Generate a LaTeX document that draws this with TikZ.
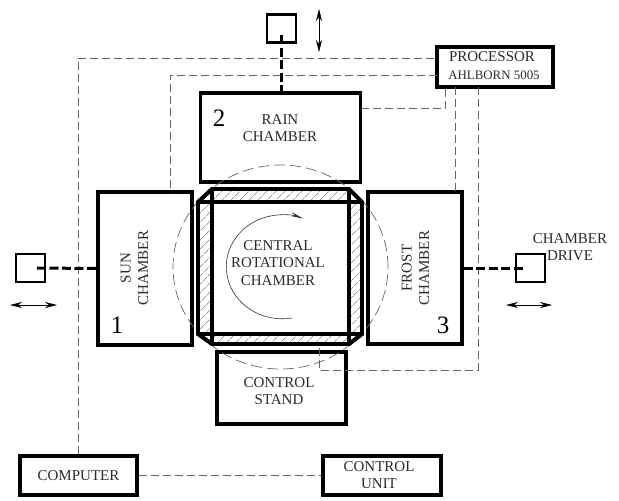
\documentclass[tikz,border=0pt]{standalone}
\usepackage{fontspec}
\setmainfont{Liberation Serif}
\usetikzlibrary{arrows.meta,patterns.meta}
\definecolor{inkc}{HTML}{2B2B2B}
\definecolor{sigc}{HTML}{666666}
\tikzset{
  x=1pt,y=-1pt,
  box/.style={draw=black,line width=3.4pt,inner sep=0pt,text=inkc,align=center,font=\fontsize{15}{17.5}\selectfont},
  lbl/.style={inner sep=0pt,text=inkc,align=center,font=\fontsize{15}{17.5}\selectfont},
  num/.style={inner sep=0pt,text=black,font=\fontsize{25}{25}\selectfont},
  drivebox/.style={draw=black,line width=2.8pt,inner sep=0pt,minimum width=29pt,minimum height=28pt},
  sig/.style={draw=sigc,line width=0.8pt,dash pattern=on 8pt off 4pt},
  rod/.style={draw=black,line width=3pt,dash pattern=on 9pt off 3.5pt},
  move/.style={draw=black,line width=0.5pt,{Stealth[length=12pt,width=6pt]}-{Stealth[length=12pt,width=6pt]}},
  hatch/.style={draw=none,pattern={Lines[angle=45,distance=6.5pt,line width=0.45pt]},pattern color=black!60},
  wall/.style={draw=black,line width=3.8pt,line join=miter},
}
\begin{document}
\begin{tikzpicture}
\useasboundingbox[fill=white] (0,0) rectangle (619,501);
% boxes
\node[box,minimum width=160pt,minimum height=89pt] (rain) at (280.5,137.5) {};
\node[box,minimum width=94pt,minimum height=153pt] (sun) at (145,268.5) {};
\node[box,minimum width=94pt,minimum height=152pt] (frost) at (415,268) {};
\node[box,minimum width=129pt,minimum height=72pt] (stand) at (281.5,388) {};
\node[box,minimum width=117pt,minimum height=39pt] (computer) at (78.5,475.5) {COMPUTER};
\node[box,minimum width=118pt,minimum height=39pt] (unit) at (382,475.5) {\hspace*{-6pt}CONTROL\\[-0.5pt]\hspace*{-6pt}UNIT};
\node[box,minimum width=116pt,minimum height=40pt] (proc) at (495,67) {};
\node[drivebox] (dtop) at (281.5,28.5) {};
\node[drivebox] (dleft) at (30.5,268) {};
\node[drivebox] (dright) at (530.5,268) {};
% free ends of the connectors
\coordinate (pa) at (437,58);
\coordinate (pb) at (437,75);
\coordinate (sb) at (170,192);
\coordinate (ra) at (361,108.5);
\coordinate (pc) at (445,87);
\coordinate (pd) at (455.5,87);
\coordinate (fd) at (455.5,192);
\coordinate (pe) at (478,87);
\coordinate (ce) at (319,345);
\coordinate (cb) at (478,370);
\coordinate (cu) at (319,370);
\coordinate (tin) at (281,35);
\coordinate (lin) at (37,268);
\coordinate (rin) at (523,268);
% signal lines
\draw[sig] (computer.north) |- (pa);
\draw[sig] (pb) -| (sb);
\draw[sig] (ra) -| (pc);
\draw[sig] (pd) -- (fd);
\draw[sig] (pe) -- (cb) -- (cu) -- (ce);
\draw[sig] (computer.east) -- (unit.west);
% drive rods
\draw[rod] (tin) -- (tin |- rain.north);
\draw[rod] (lin) -- (sun.west);
\draw[rod] (frost.east) -- (rin);
% motion arrows
\coordinate (au) at (319,9); \coordinate (ad) at (319,52);
\coordinate (bl) at (10,305); \coordinate (br) at (57,305);
\coordinate (cl) at (506,305); \coordinate (cr) at (552,305);
\draw[move] (au) -- (ad);
\draw[move] (bl) -- (br);
\draw[move] (cl) -- (cr);
% dashed circle
\draw[draw=sigc,line width=0.7pt,dash pattern=on 11pt off 5pt] (280.5,267) ellipse [x radius=107.5pt,y radius=102pt];
% central chamber
\filldraw[wall,fill=white] (212,189) -- (349,189) -- (362,202) -- (362,334) -- (349,344) -- (212,344) -- (198,334) -- (198,202) -- cycle;
\fill[hatch] (212,189) rectangle (349,202);
\fill[hatch] (212,334) rectangle (349,344);
\fill[hatch] (198,202) rectangle (212,334);
\fill[hatch] (349,202) rectangle (362,334);
\draw[wall] (212,189) -- (349,189) -- (362,202) -- (362,334) -- (349,344) -- (212,344) -- (198,334) -- (198,202) -- cycle;
\draw[wall] (198,202) -- (362,202);
\draw[wall] (198,334) -- (362,334);
\draw[wall] (212,189) -- (212,344);
\draw[wall] (349,189) -- (349,344);
% rotation arrow
\draw[draw=black!80,line width=0.6pt,-{Stealth[length=13pt,width=4pt]}] (292,318) arc [start angle=280,end angle=68,x radius=56pt,y radius=52pt];
% labels
\node[lbl] (traintext) at (280,128) {RAIN\\CHAMBER};
\node[lbl,rotate=90] (tsun) at (134.5,268) {SUN\\CHAMBER};
\node[lbl,rotate=90] (tfrost) at (415.5,268) {FROST\\CHAMBER};
\node[lbl] (tcentral) at (278,263) {CENTRAL\\ROTATIONAL\\CHAMBER};
\node[lbl] (tstand) at (279,391) {CONTROL\\STAND};
\node[lbl] (tdrive) at (570,247) {CHAMBER\\DRIVE};
\node[lbl] (tproc) at (492,57) {PROCESSOR};
\node[lbl,font=\fontsize{12.9}{15}\selectfont] (tahl) at (494,75.5) {AHLBORN 5005};
\node[num] (n2) at (219,118) {2};
\node[num] (n1) at (117,325) {1};
\node[num] (n3) at (443,325) {3};
\end{tikzpicture}
\end{document}
